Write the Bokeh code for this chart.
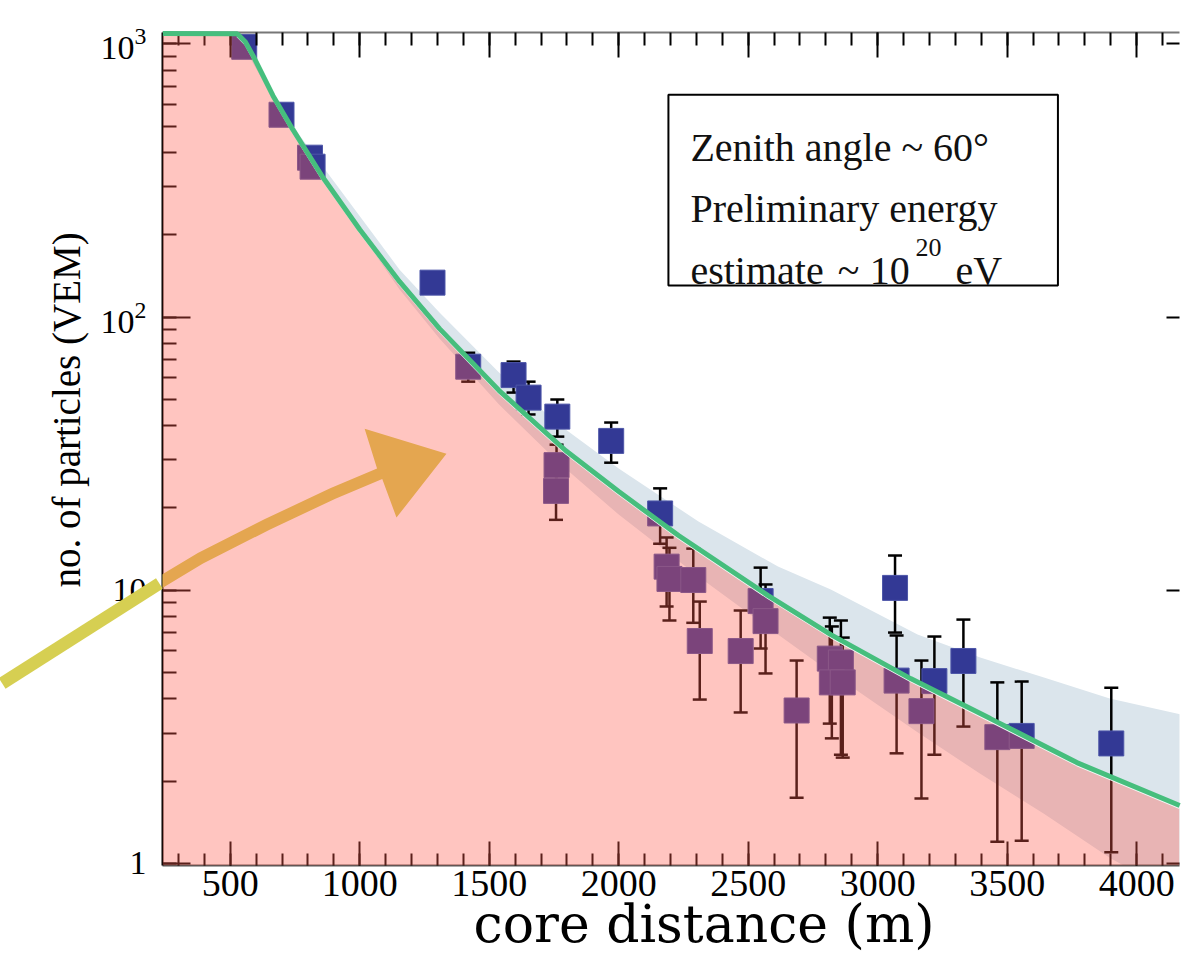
import numpy as np
from bokeh.plotting import figure
from bokeh.models import (LinearAxis, LogAxis, SingleIntervalTicker, LogTicker, LogTickFormatter,
                          PolyAnnotation, BoxAnnotation, Label, Range1d)
from bokeh.embed import file_html
from bokeh.resources import INLINE

# ---------------- data ----------------
dist = [554, 698, 808, 818, 1281, 1419, 1594, 1652, 1763, 1760, 1758, 1971, 2160,
        2185, 2196, 2288, 2313, 2471, 2548, 2567, 2687, 2815, 2858, 2823, 2865,
        3067, 3073, 3169, 3219, 3331, 3462, 3556, 3902]
vem = [975, 550, 383, 355, 133.6, 65.8, 61.3, 50.7, 43.2, 28.7, 23.1, 35.2, 19.1,
       12.2, 11.0, 10.9, 6.52, 5.99, 9.13, 7.71, 3.63, 5.62, 5.44, 4.6, 4.6,
       10.2, 4.67, 3.61, 4.65, 5.51, 2.9, 2.93, 2.75]
vem_lo = [975, 550, 383, 355, 133.6, 58, 52.9, 44, 36.5, 24, 18.1, 29.3, 14.8,
          8.72, 7.75, 7.6, 3.98, 3.57, 6.12, 4.96, 1.74, 3.25, 2.5, 2.87, 2.44,
          7.0, 2.53, 1.73, 2.5, 3.17, 1.2, 1.21, 1.1]
vem_hi = [975, 550, 383, 355, 133.6, 74, 68.7, 58, 49.9, 34.1, 28, 41.1, 23.6,
          15.6, 14.3, 14.2, 9.09, 8.43, 12.1, 10.5, 5.53, 7.94, 7.75, 7.37, 6.71,
          13.4, 6.83, 5.53, 6.77, 7.81, 4.6, 4.63, 4.4]

fit_dist = [240, 527, 558, 588, 665, 742, 858, 1000, 1154, 1308, 1538, 1796, 2000,
            2231, 2577, 2819, 3127, 3435, 3769, 4166]
fit_vem = [1090, 1089, 1018, 905, 646, 485, 324, 209, 134.7, 90.7, 53.8, 32.4, 22.97,
           15.86, 9.56, 6.88, 4.75, 3.39, 2.34, 1.63]

band_dist = [527, 769, 1154, 1308, 1538, 1769, 2000, 2308, 2615, 2819, 3154,
             3396, 3642, 3896, 4170]
band_hi = [1089, 461, 149.1, 103.8, 62.6, 40.4, 27.9, 17.84, 12.21, 10.06, 6.88,
           5.67, 4.79, 4.02, 3.51]
band_lo = [1071, 424, 126.0, 83.4, 47.8, 29.3, 18.92, 11.22, 6.88, 5.0, 3.02,
           2.13, 1.52, 1.05, 0.75]

X0, X1 = 238.5, 4165.4
Y0, Y1 = 0.983, 1100.0

SERIF = "Liberation Serif"

p = figure(width=1183, height=968, x_range=Range1d(X0, X1), y_range=Range1d(Y0, Y1),
           y_axis_type="log", output_backend="svg", toolbar_location=None,
           min_border_left=162, min_border_right=0, min_border_top=32, min_border_bottom=103,
           outline_line_color=None, background_fill_color="white", border_fill_color="white")
p.grid.visible = False

# bottom axis
xa = p.xaxis[0]
xa.ticker = SingleIntervalTicker(interval=500, num_minor_ticks=5)
xa.major_tick_in = 24
xa.major_tick_out = 0
xa.minor_tick_in = 12
xa.minor_tick_out = 0
xa.major_tick_line_width = 2
xa.minor_tick_line_width = 2
xa.major_tick_line_color = "black"
xa.axis_line_width = 2
xa.axis_line_color = "#555555"
xa.major_label_text_font = SERIF
xa.major_label_text_font_size = "38px"
xa.major_label_text_color = "black"
xa.major_label_standoff = 5
xa.axis_label = "\u00a0" * 4 + "core distance (m)"
xa.axis_label_text_font = "DejaVu Serif"
xa.axis_label_text_font_size = "52px"
xa.axis_label_text_font_style = "normal"
xa.axis_label_text_color = "black"
xa.axis_label_standoff = -5

# left axis
ya = p.yaxis[0]
ya.ticker = LogTicker(num_minor_ticks=10)
ya.formatter = LogTickFormatter(min_exponent=2)
ya.major_tick_in = 28
ya.major_tick_out = 0
ya.minor_tick_in = 14
ya.minor_tick_out = 0
ya.major_tick_line_width = 2
ya.minor_tick_line_width = 2
ya.axis_line_width = 2
ya.axis_line_color = "black"
ya.major_label_text_font = SERIF
ya.major_label_text_font_size = "34px"
ya.major_label_text_color = "black"
ya.major_label_standoff = 16
ya.axis_label = "\u00a0" * 8 + "no. of particles (VEM)"
ya.axis_label_text_font = SERIF
ya.axis_label_text_font_size = "39px"
ya.axis_label_text_font_style = "normal"
ya.axis_label_text_color = "black"
ya.axis_label_standoff = 10

# top axis (ticks only)
top = LinearAxis(ticker=SingleIntervalTicker(interval=500, num_minor_ticks=5),
                 major_tick_in=25, major_tick_out=0, minor_tick_in=13, minor_tick_out=0,
                 major_tick_line_width=2, minor_tick_line_width=2,
                 axis_line_color="#777777", axis_line_width=2,
                 major_label_text_font_size="0px", major_label_text_color=None,
                 major_label_standoff=0)
p.add_layout(top, "above")

# right axis (major ticks only)
right = LogAxis(ticker=LogTicker(), major_tick_in=13, major_tick_out=0,
                minor_tick_line_color=None, major_tick_line_width=2,
                axis_line_color=None, major_label_text_font_size="0px",
                major_label_text_color=None, major_label_standoff=0)
p.add_layout(right, "right")

# uncertainty band
p.varea(x=band_dist, y1=band_lo, y2=band_hi, fill_color="#dbe5ec", level="underlay")

# error bars and markers
p.segment(x0=dist, y0=vem_lo, x1=dist, y1=vem_hi, line_color="black", line_width=2.5)
p.scatter(x=dist + dist, y=vem_lo + vem_hi, marker="dash", size=14,
          line_color="black", line_width=2.5)
p.scatter(x=dist, y=vem, marker="square", size=25, fill_color="#333995",
          line_color="#4d56a8", line_width=1)

# hand drawn arrow (annotation, drawn before the pink overlay so it gets tinted inside)
ax = [-385, -127, 127, 385, 642, 896, 1077]
ay = [4.56, 6.55, 9.33, 13.1, 17.4, 22.6, 26.7]
up_x = [x - 10 for x in ax]
up_y = [y * 1.045 for y in ay]
dn_x = [x + 10 for x in ax][::-1]
dn_y = [y / 1.045 for y in ay][::-1]
head_x = [1019, 1335, 1142]
head_y = [39.0, 31.6, 18.45]
arrow = PolyAnnotation(xs=up_x + head_x + dn_x, ys=up_y + head_y + dn_y,
                       fill_color="#d6cf52", fill_alpha=1.0, line_color=None)
p.add_layout(arrow)
# tail of the arrow, outside the plotting frame (side panel rotates by 90 degrees)
tail = Label(x=-77, y=6.95, text="\u00a0", text_font_size="2px", padding=(6, 92),
             angle=0.566 - np.pi / 2, anchor="center", background_fill_color="#d6cf52",
             background_fill_alpha=1.0, border_line_color=None)
p.add_layout(tail, "left")

# pink region below the fit
pink_x = [X0] + fit_dist[:-1] + [X1, X1, X0]
pink_y = [fit_vem[0] * 0.985] + [v * 0.985 for v in fit_vem[:-1]] + [fit_vem[-1] * 0.985, Y0, Y0]
pink = PolyAnnotation(xs=pink_x, ys=pink_y, fill_color="#ff5b4c", fill_alpha=0.353,
                      line_color=None)
p.add_layout(pink)

# fit line on top, with a thin light edge underneath
p.line(fit_dist[1:], [v * 0.978 for v in fit_vem[1:]], line_color="#f4f8f8", line_width=2,
       level="overlay")
p.line(fit_dist, fit_vem, line_color="#46be7d", line_width=5, level="overlay")

# text box
box = BoxAnnotation(left=2192, right=3696, top=651, bottom=130.3, fill_color="white",
                    fill_alpha=1.0, line_color="black", line_alpha=1.0, line_width=2)
p.add_layout(box)
for txt, xx, yy, fs in [("Zenith angle ~ 60°", 2277, 416.8, "40px"),
                        ("Preliminary energy", 2277, 249.3, "40px"),
                        ("estimate", 2277, 147.8, "40px"),
                        ("~", 2846, 147.8, "40px"),
                        ("10", 2969, 147.8, "40px"),
                        ("20", 3146, 179.5, "26px"),
                        ("eV", 3300, 147.8, "40px")]:
    p.add_layout(Label(x=xx, y=yy, text=txt, text_font=SERIF, text_font_size=fs,
                       text_baseline="alphabetic", text_align="left", text_color="#111111"))

open("out.html", "w").write(file_html(p, INLINE, "plot"))
